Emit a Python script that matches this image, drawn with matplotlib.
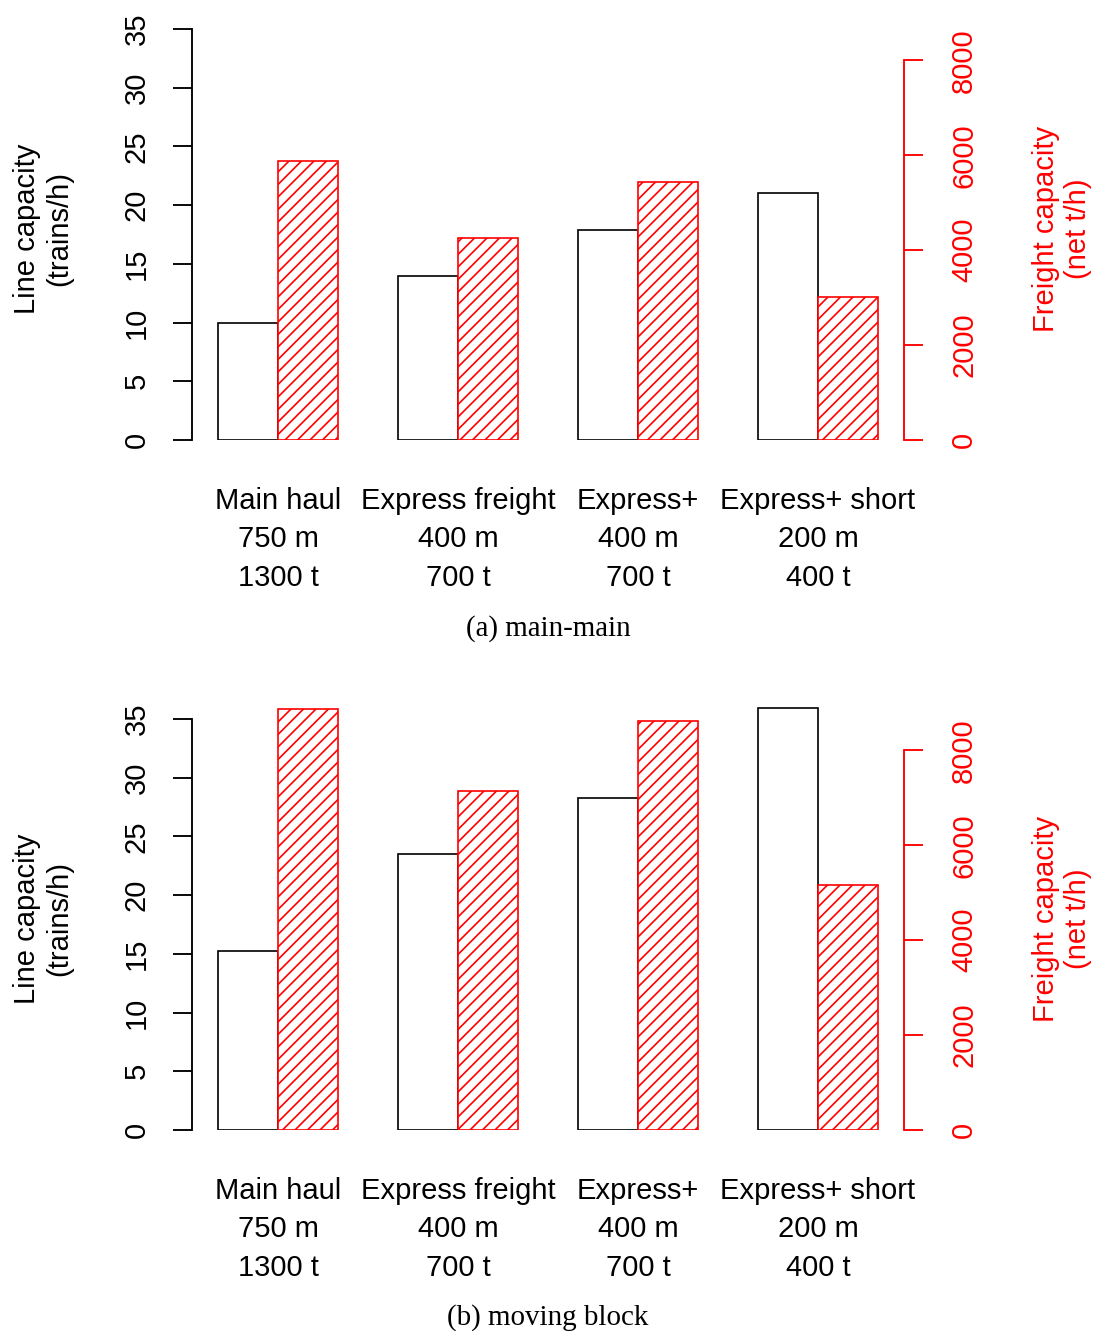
import matplotlib
matplotlib.use("Agg")
import matplotlib.pyplot as plt

# data
categories = ["Main haul\n750 m\n1300 t", "Express freight\n400 m\n700 t",
              "Express+\n400 m\n700 t", "Express+ short\n200 m\n400 t"]
line_cap_a = [10.0, 14.0, 17.9, 21.0]
freight_a = [5870, 4260, 5440, 3020]
line_cap_b = [15.25, 23.5, 28.3, 35.95]
freight_b = [8880, 7140, 8610, 5160]
captions = ["(a) main-main", "(b) moving block"]
left_ticks = [0, 5, 10, 15, 20, 25, 30, 35]
right_ticks = [0, 2000, 4000, 6000, 8000]

W, H, DPI = 1101, 1331, 75
plt.rcParams['font.family'] = ['Liberation Sans', 'DejaVu Sans']
plt.rcParams['hatch.linewidth'] = 1.6

fig = plt.figure(figsize=(W / DPI, H / DPI), dpi=DPI)

unit = 11.743          # px per train/h
ratio = 247.5          # t/h per train/h on the right axis


def panel(zero_px, caps, freight, caption, cap_y):
    ax = fig.add_axes([191.6 / W, 1 - zero_px / H, (904.4 - 191.6) / W, 37 * unit / H])
    ax.set_xlim(0.56, 12.44)
    ax.set_ylim(0, 37)
    ax2 = ax.twinx()
    ax2.set_ylim(0, 37 * ratio)
    ax2.set_position(ax.get_position())

    xb = [1 + 3 * i for i in range(len(caps))]
    xr = [2 + 3 * i for i in range(len(caps))]
    ax.bar(xb, caps, width=1, align='edge', facecolor='white',
           edgecolor='black', linewidth=1.6)
    ax2.bar(xr, freight, width=1, align='edge', facecolor='white',
            edgecolor='red', hatch='//', linewidth=1.6)

    for a in (ax, ax2):
        a.spines['top'].set_visible(False)
        a.spines['bottom'].set_visible(False)
    ax.spines['right'].set_visible(False)
    ax2.spines['left'].set_visible(False)
    ax.spines['left'].set_bounds(0, 35)
    ax.spines['left'].set_linewidth(1.8)
    ax2.spines['right'].set_bounds(0, 8000)
    ax2.spines['right'].set_color('red')
    ax2.spines['right'].set_linewidth(1.8)

    ax.set_yticks(left_ticks)
    ax.set_yticklabels([str(t) for t in left_ticks])
    ax.tick_params(axis='y', length=18, width=1.8, pad=21, labelsize=28, labelrotation=90)
    for t in ax.get_yticklabels():
        t.set_va('center')
    ax2.set_yticks(right_ticks)
    ax2.set_yticklabels([str(t) for t in right_ticks])
    ax2.tick_params(axis='y', length=18, width=1.8, pad=26, labelsize=28,
                    labelrotation=90, colors='red')
    for t in ax2.get_yticklabels():
        t.set_va('center')

    ax.set_xticks(xr)
    ax.set_xticklabels(categories)
    ax.tick_params(axis='x', length=0, pad=45, labelsize=28)
    for t in ax.get_xticklabels():
        t.set_linespacing(1.48)
        t.set_va('top')

    mid = zero_px - 211
    fig.text(43 / W, 1 - mid / H, "Line capacity\n(trains/h)", rotation=90,
             ha='center', va='center', fontsize=28, linespacing=1.2)
    fig.text(1062 / W, 1 - mid / H, "Freight capacity\n(net t/h)", rotation=90,
             ha='center', va='center', fontsize=28, linespacing=1.2, color='red')
    fig.text(548 / W, 1 - cap_y / H, caption, ha='center', va='center',
             fontsize=27.8, family=['Liberation Serif', 'DejaVu Serif'])


panel(440, line_cap_a, freight_a, captions[0], 629)
panel(1130, line_cap_b, freight_b, captions[1], 1318)

fig.savefig("out.png", dpi=DPI)
